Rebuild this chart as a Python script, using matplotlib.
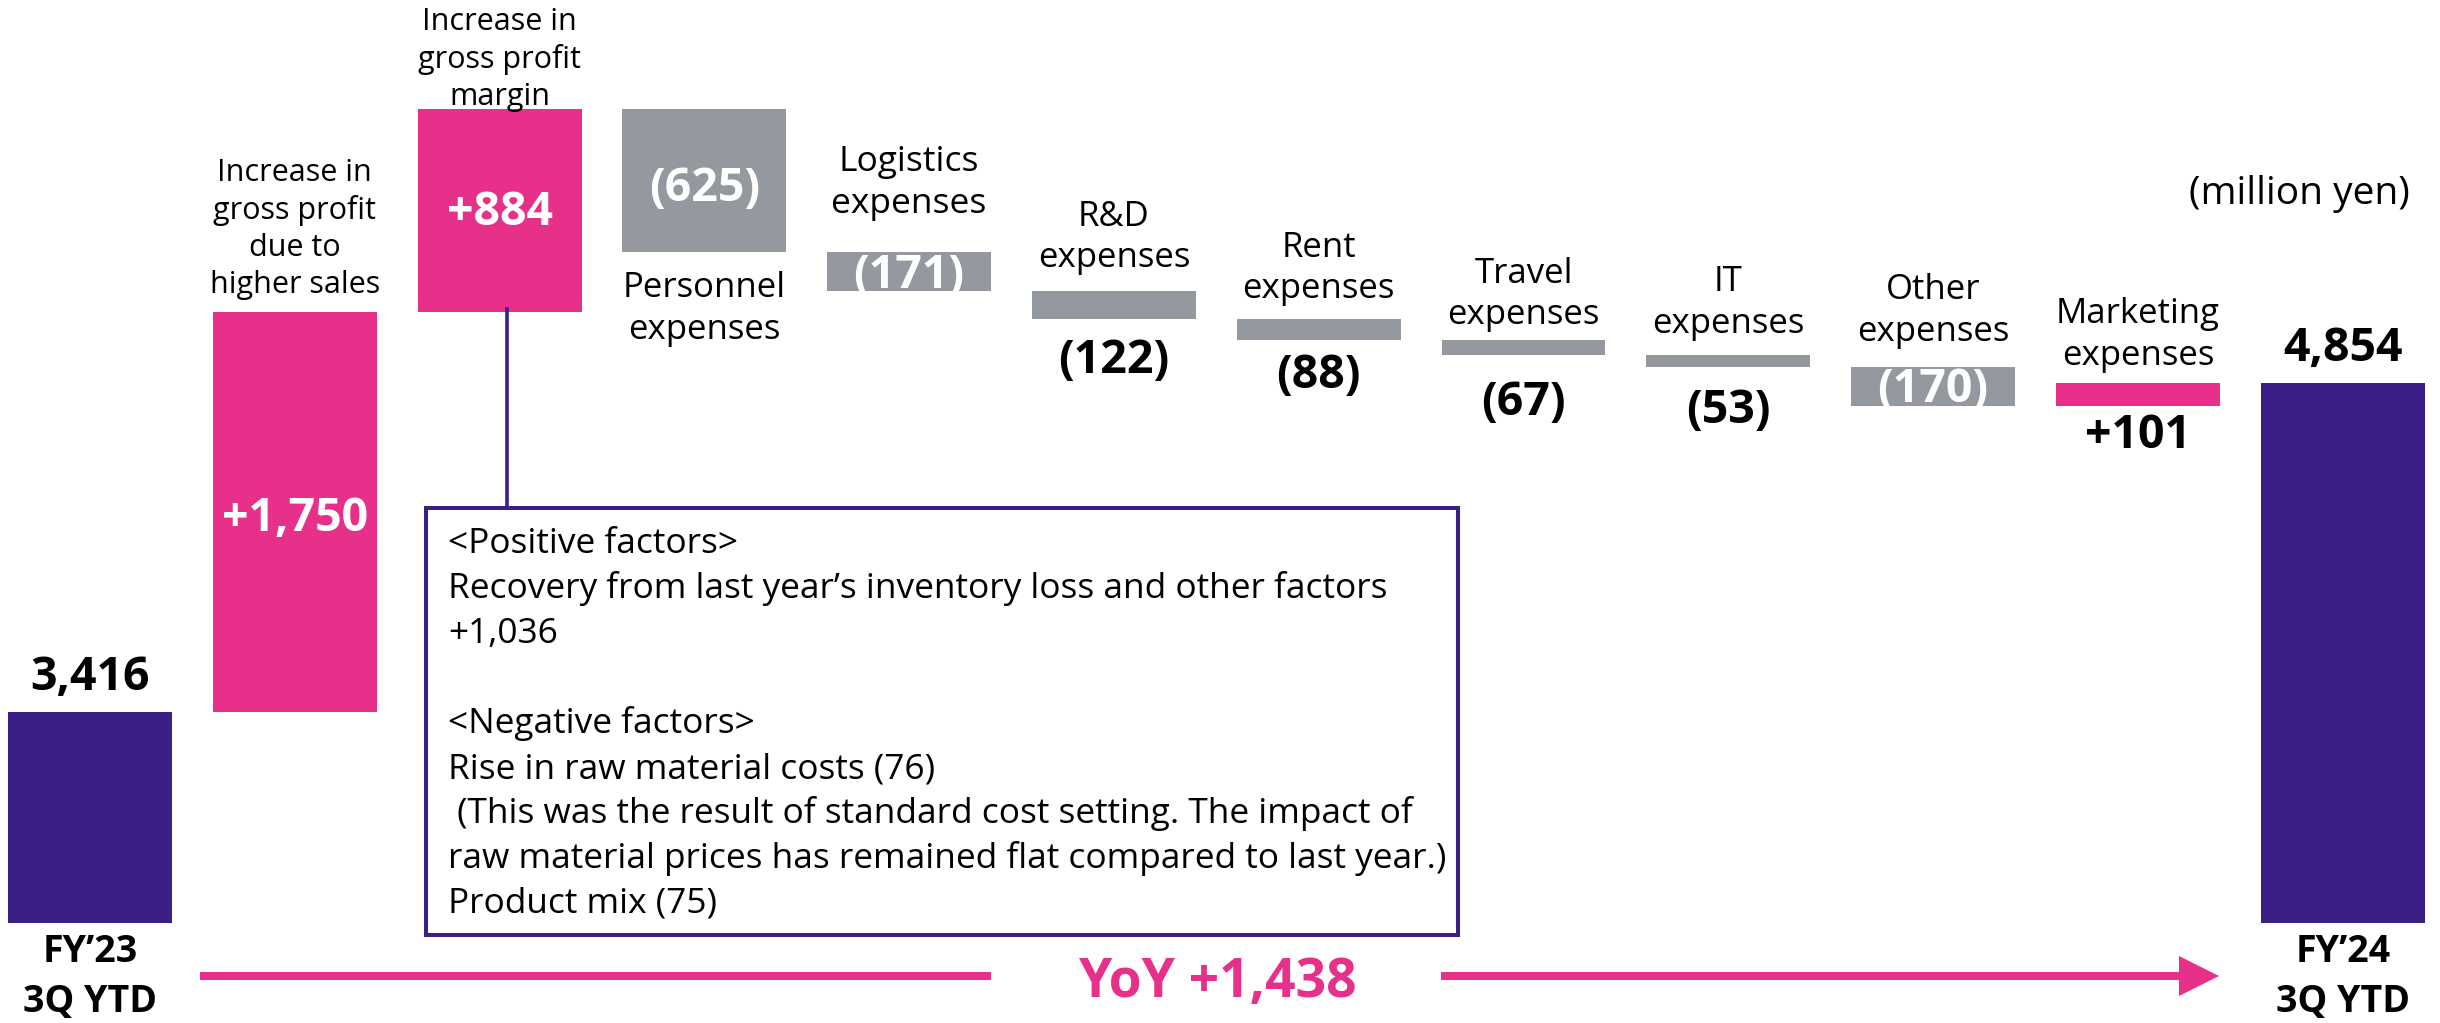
import numpy as np
import matplotlib.pyplot as plt
from matplotlib.patches import Rectangle

plt.rcParams['font.family'] = ['Open Sans', 'DejaVu Sans']

# Data (million yen)
start_label = 'FY’23\n3Q YTD'
end_label = 'FY’24\n3Q YTD'
start_value = 3416
end_value = 4854
factor_names = ['Increase in\ngross profit\ndue to\nhigher sales',
                'Increase in\ngross profit\nmargin',
                'Personnel\nexpenses', 'Logistics\nexpenses', 'R&D\nexpenses',
                'Rent\nexpenses', 'Travel\nexpenses', 'IT\nexpenses',
                'Other\nexpenses', 'Marketing\nexpenses']
factor_values = [1750, 884, -625, -171, -122, -88, -67, -53, -170, 101]
yoy_change = 1438
box_lines = ['<Positive factors>',
             'Recovery from last year’s inventory loss and other factors',
             '+1,036',
             '',
             '<Negative factors>',
             'Rise in raw material costs (76)',
             ' (This was the result of standard cost setting. The impact of',
             'raw material prices has remained flat compared to last year.)',
             'Product mix (75)']

PURPLE = '#3B1F85'
PINK = '#E6308A'
GRAY = '#94999F'

# label placement (pixels)
value_pos = ['in', 'in', 'in', 'in', 'below', 'below', 'below', 'below', 'in', 'below']
value_off = [-19, -14, -20, -16, 54, 48, 60, 56, -16, 42]
name_side = ['above', 'above', 'below', 'above', 'above', 'above', 'above', 'above', 'above', 'above']
name_off = [83, 50, 57, 69, 54, 51, 45, 52, 56, 48]
name_size = [22, 22, 25, 25.5, 25, 25, 25, 25, 25, 25]


def fmt(v):
    return f'+{v:,}' if v > 0 else f'({-v:,})'


fig = plt.figure(figsize=(24.4, 10.23), dpi=100)
ax = fig.add_axes([0, 100 / 1023, 1, 923 / 1023])
ax.set_xlim(-0.4395, 11.475)
ax.set_ylim(2494, 6528)
ax.axis('off')

n = len(factor_values)
x = np.arange(n + 2)
cum = start_value + np.cumsum(factor_values)
prev = np.concatenate([[start_value], cum[:-1]])
bottoms = np.minimum(prev, cum)
heights = np.abs(factor_values)
colors = [PINK if v > 0 else GRAY for v in factor_values]

ax.bar(x[0], start_value, width=0.8, color=PURPLE, linewidth=0)
ax.bar(x[-1], end_value, width=0.8, color=PURPLE, linewidth=0)
ax.bar(x[1:-1], heights, bottom=bottoms, width=0.8, color=colors, linewidth=0)

# totals
for xi, v in [(x[0], start_value), (x[-1], end_value)]:
    ax.annotate(f'{v:,}', xy=(xi, v), xytext=(0, 22), textcoords='offset pixels',
                ha='center', va='baseline', fontsize=33.5, fontweight='bold', color='black')
for xi, lab in [(x[0], start_label), (x[-1], end_label)]:
    ax.annotate(lab, xy=(xi, 0), xycoords=('data', 'axes fraction'), xytext=(0, -54),
                textcoords='offset pixels', ha='center', va='center', fontsize=27,
                fontweight='bold', linespacing=1.44, annotation_clip=False)

# factor bars labels
for i, v in enumerate(factor_values):
    xi = x[i + 1]
    top = bottoms[i] + heights[i]
    bot = bottoms[i]
    if value_pos[i] == 'in':
        ax.annotate(fmt(v), xy=(xi, (top + bot) / 2), xytext=(0, value_off[i]),
                    textcoords='offset pixels', ha='center', va='baseline',
                    fontsize=33.5, fontweight='bold', color='white')
    else:
        ax.annotate(fmt(v), xy=(xi, bot), xytext=(0, -value_off[i]),
                    textcoords='offset pixels', ha='center', va='baseline',
                    fontsize=33.5, fontweight='bold', color='black')
    if name_side[i] == 'above':
        ax.annotate(factor_names[i], xy=(xi, top), xytext=(0, name_off[i]),
                    textcoords='offset pixels', ha='center', va='center',
                    fontsize=name_size[i], linespacing=1.3)
    else:
        ax.annotate(factor_names[i], xy=(xi, bot), xytext=(0, -name_off[i]),
                    textcoords='offset pixels', ha='center', va='center',
                    fontsize=name_size[i], linespacing=1.3)

# overlay in pixel coordinates for the note box and YoY arrow
ov = fig.add_axes([0, 0, 1, 1])
ov.set_xlim(0, 2440)
ov.set_ylim(1023, 0)
ov.axis('off')
ov.patch.set_alpha(0)

ov.add_patch(Rectangle((426, 508), 1032, 427, fill=False, edgecolor=PURPLE, linewidth=2.9))
ov.plot([507, 507], [309, 508], color=PURPLE, linewidth=2.6)
for j, line in enumerate(box_lines):
    ov.text(448, 553 + 45 * j, line, fontsize=25.4, va='baseline', ha='left')

ov.text(2410, 194, '(million yen)', fontsize=28, ha='right', va='center')

ov.plot([200, 991], [976, 976], color=PINK, linewidth=5.8, solid_capstyle='butt')
ov.plot([1441, 2182], [976, 976], color=PINK, linewidth=5.8, solid_capstyle='butt')
ov.fill([2179, 2219, 2179], [956, 976, 996], color=PINK, linewidth=0)
ov.text(1217, 997, f'YoY +{yoy_change:,}', fontsize=38.4, fontweight='bold',
        color=PINK, ha='center', va='baseline')

fig.savefig('out.png', dpi=100, facecolor='white')
